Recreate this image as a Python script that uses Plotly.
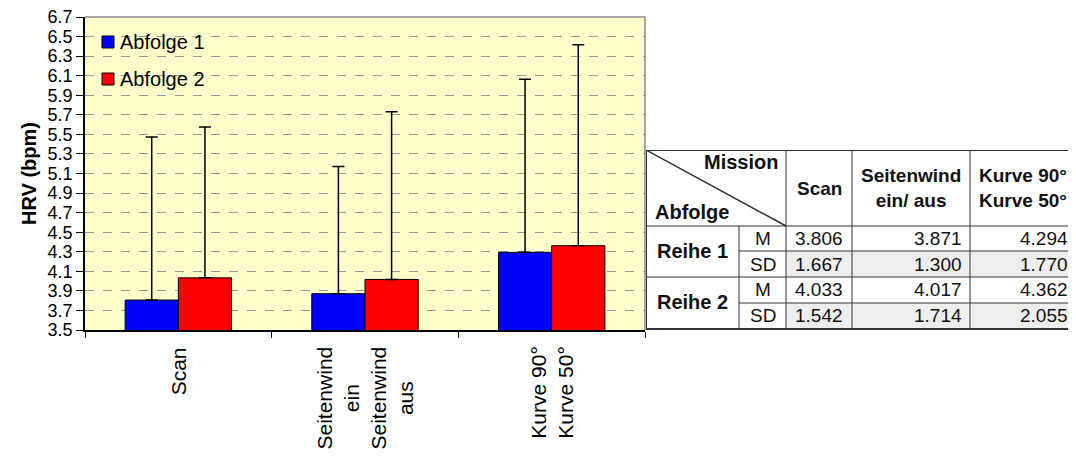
import plotly.graph_objects as go

# chart data
missions = ["Scan", "Seitenwind ein/aus", "Kurve 90°/50°"]
x_labels = ["Scan", "Seitenwind<br>ein<br>Seitenwind<br>aus", "Kurve 90°<br>Kurve 50°"]
series = ["Abfolge 1", "Abfolge 2"]
colors = ["#0000ff", "#ff0000"]
m1 = [3.806, 3.871, 4.294]
sd1 = [1.667, 1.300, 1.770]
m2 = [4.033, 4.017, 4.362]
sd2 = [1.542, 1.714, 2.055]
y_ticks = [3.5, 3.7, 3.9, 4.1, 4.3, 4.5, 4.7, 4.9, 5.1, 5.3, 5.5, 5.7, 5.9, 6.1, 6.3, 6.5, 6.7]

# table text
col_heads = ["Scan", "Seitenwind<br>ein/ aus", "Kurve 90°<br>Kurve 50°"]
row_heads = ["Reihe 1", "Reihe 2"]
stat_heads = ["M", "SD"]

# the page body adds 8px of margin, so the figure is 8px smaller
OFF = 8
W, H = 1076 - OFF, 457 - OFF
PL, PT, PB = 85, 17, 330          # plot box in page pixels
L, T = PL - OFF, PT - OFF
B = H - (PB - OFF)
pw = W - L
ph = PB - PT
FONT = "Liberation Sans, Arial, sans-serif"

def px(x):
    return (x - PL) / pw

def py(y):
    return (PB - y) / ph

fig = go.Figure()
for name, col, mv, sv in zip(series, colors, (m1, m2), (sd1, sd2)):
    fig.add_trace(go.Bar(x=missions, y=mv, name=name, marker_color=col,
                         marker_line_color="black", marker_line_width=1,
                         error_y=dict(type="data", array=sv, symmetric=False,
                                      arrayminus=[0] * len(sv),
                                      color="black", thickness=1.5, width=6)))

plot_right = px(645)
fig.update_layout(
    width=W, height=H,
    margin=dict(l=L, r=0, t=T, b=B, autoexpand=False),
    paper_bgcolor="white",
    plot_bgcolor="#ffffcc",
    font=dict(family=FONT, size=20, color="black"),
    barmode="group", bargap=0.43, bargroupgap=0,
    showlegend=False,
    xaxis=dict(domain=[0, plot_right], showticklabels=False, tickson="boundaries",
               ticks="outside", ticklen=6, tickcolor="black", automargin=False,
               showline=True, linecolor="black", linewidth=1.5, showgrid=False),
    yaxis=dict(range=[3.5, 6.7], tickmode="array", tickvals=y_ticks,
               tickformat=".1f", ticklabeloverflow="allow",
               ticks="outside", ticklen=7, tickcolor="black", automargin=False,
               showline=True, linecolor="black", linewidth=1.5,
               gridcolor="#999999", griddash="dash", gridwidth=1,
               title=dict(text="<b>HRV (bpm)</b>", font=dict(size=20), standoff=6),
               tickfont=dict(size=18)),
    xaxis2=dict(domain=[px(646), 1], range=[646, 1076], visible=False,
                anchor="y2", fixedrange=True),
    yaxis2=dict(domain=[0, py(150)], range=[330, 150], visible=False,
                anchor="x2", fixedrange=True),
)

# grey top/right frame of the plot area
fig.add_shape(type="line", xref="paper", yref="paper", x0=0, x1=plot_right, y0=1, y1=1,
              line=dict(color="#888888", width=1.5))
fig.add_shape(type="line", xref="paper", yref="paper", x0=plot_right, x1=plot_right, y0=0, y1=1,
              line=dict(color="#888888", width=1.5))

# legend drawn inside the plot, Excel style
for i, (name, col) in enumerate(zip(series, colors)):
    yc = 42 + 37 * i
    fig.add_shape(type="rect", xref="paper", yref="paper",
                  x0=px(102), x1=px(114), y0=py(yc + 6), y1=py(yc - 6),
                  fillcolor=col, line=dict(color="black", width=1))
    fig.add_annotation(x=px(118), y=py(yc), xref="paper", yref="paper", text=name,
                       showarrow=False, xanchor="left", yanchor="middle",
                       font=dict(size=20))

# category labels under the bars
for cat, lab in zip(missions, x_labels):
    fig.add_annotation(x=cat, xref="x", y=0, yref="paper", yanchor="top", yshift=-15,
                       text=lab, textangle=-90, showarrow=False, align="center",
                       font=dict(size=21))

# table (page pixel coordinates via x2/y2)
tx = [646, 739, 786, 852, 970, 1075]
ty = [150, 226, 251, 277, 303, 329]
line_c = "#333333"

def seg(x0, y0, x1, y1, w=1):
    fig.add_shape(type="line", xref="x2", yref="y2", x0=x0, y0=y0, x1=x1, y1=y1,
                  line=dict(color=line_c, width=w))

fig.add_shape(type="rect", xref="x2", yref="y2", x0=tx[0], x1=tx[5], y0=ty[0], y1=ty[5],
              fillcolor="white", line_width=0, layer="below")
for ry in (ty[2], ty[4]):
    fig.add_shape(type="rect", xref="x2", yref="y2", x0=tx[2], x1=tx[5], y0=ry, y1=ry + 26,
                  fillcolor="#eeeeee", line_width=0, layer="below")

fig.add_shape(type="rect", xref="x2", yref="y2", x0=tx[0], x1=tx[5], y0=ty[0], y1=ty[5],
              line=dict(color=line_c, width=2), fillcolor="rgba(0,0,0,0)")
seg(tx[1], ty[1], tx[1], ty[5])
for x in tx[2:5]:
    seg(x, ty[0], x, ty[5])
seg(tx[0], ty[1], tx[5], ty[1])
seg(tx[0], ty[3], tx[5], ty[3])
seg(tx[1], ty[2], tx[5], ty[2])
seg(tx[1], ty[4], tx[5], ty[4])
seg(tx[0], ty[0], tx[2], ty[1], 1.5)

def txt(x, y, s, anchor="center", size=19, bold=False):
    fig.add_annotation(x=x, y=y, xref="x2", yref="y2", text=f"<b>{s}</b>" if bold else s,
                       showarrow=False, xanchor=anchor, yanchor="middle", align="center",
                       font=dict(size=size, color="#111111"))

txt(780, 162, "Mission", "right", 20, True)
txt(653, 212, "Abfolge", "left", 20, True)
for i, h in enumerate(col_heads):
    txt((tx[i + 2] + tx[i + 3]) / 2, 188, h, "center", 19, True)

table_rows = [(row_heads[0], m1, sd1), (row_heads[1], m2, sd2)]
for k, (rname, mv, sv) in enumerate(table_rows):
    y_top = ty[1 + 2 * k]
    txt((tx[0] + tx[1]) / 2, y_top + 25, rname, "center", 20, True)
    for j, vals in enumerate((mv, sv)):
        yc = y_top + 12.5 + 26 * j
        txt((tx[1] + tx[2]) / 2, yc, stat_heads[j], "center", 19)
        txt(tx[2] + 7, yc, f"{vals[0]:.3f}", "left", 19)
        txt(tx[4] - 6, yc, f"{vals[1]:.3f}", "right", 19)
        txt(tx[5] - 5, yc, f"{vals[2]:.3f}", "right", 19)

fig.write_html("out.html")
